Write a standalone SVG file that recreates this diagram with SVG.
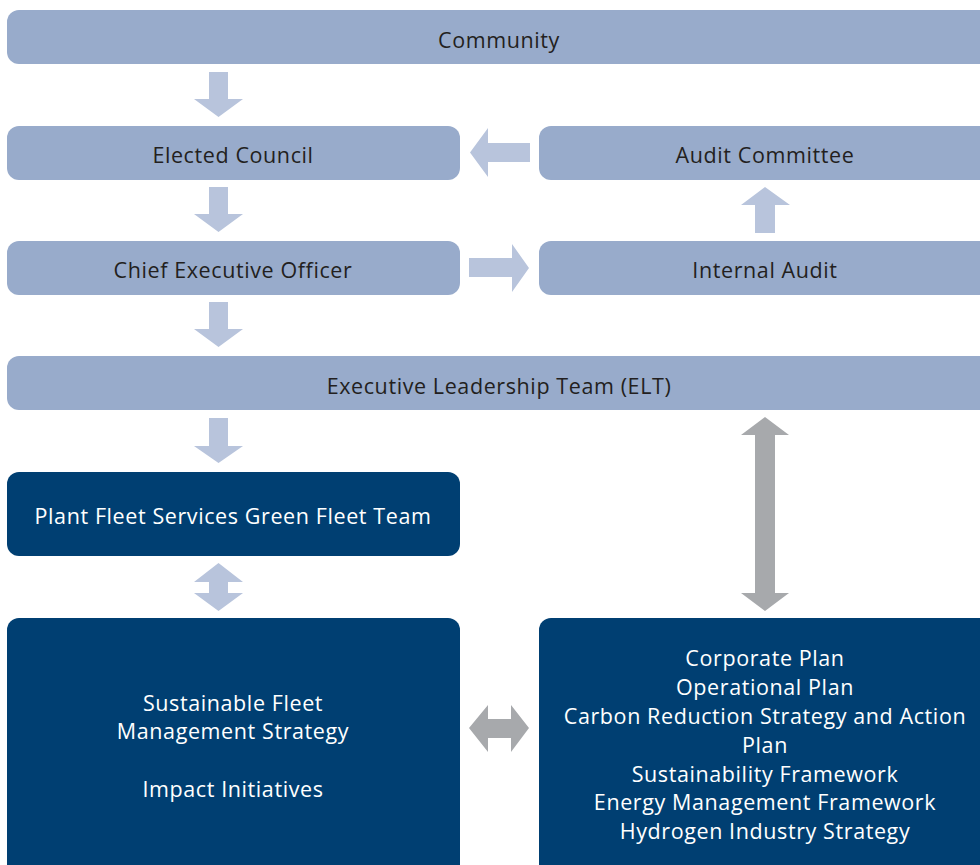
<svg xmlns="http://www.w3.org/2000/svg" width="980" height="865" viewBox="0 0 980 865">
<style>
.lb{fill:#98abcb}
.db{fill:#003f72}
.la{fill:#b8c4dc}
.ga{fill:#a7a9ac}
text{font-family:"Open Sans","Liberation Sans",sans-serif;font-size:21.5px;letter-spacing:0.6px;text-anchor:middle}
.dt{fill:#231f20}
.wt{fill:#ffffff}
</style>
<rect width="980" height="865" fill="#ffffff"/>
<g id="community"><rect class="lb" x="7" y="10" width="985" height="54" rx="12"/><text class="dt" x="499" y="48">Community</text></g>
<g id="elected-council"><rect class="lb" x="7" y="126" width="453" height="54" rx="12"/><text class="dt" x="233" y="163">Elected Council</text></g>
<g id="audit-committee"><rect class="lb" x="539" y="126" width="453" height="54" rx="12"/><text class="dt" x="765" y="163">Audit Committee</text></g>
<g id="ceo"><rect class="lb" x="7" y="241" width="453" height="54" rx="12"/><text class="dt" x="233" y="278">Chief Executive Officer</text></g>
<g id="internal-audit"><rect class="lb" x="539" y="241" width="453" height="54" rx="12"/><text class="dt" x="765" y="278">Internal Audit</text></g>
<g id="elt"><rect class="lb" x="7" y="356" width="985" height="54" rx="12"/><text class="dt" x="499" y="394">Executive Leadership Team (ELT)</text></g>
<g id="green-fleet-team"><rect class="db" x="7" y="472" width="453" height="84" rx="12"/><text class="wt" x="233" y="524">Plant Fleet Services Green Fleet Team</text></g>
<g id="sustainable-fleet"><rect class="db" x="7" y="618" width="453" height="262" rx="12"/>
<text class="wt" x="233" y="711">Sustainable Fleet</text>
<text class="wt" x="233" y="739">Management Strategy</text>
<text class="wt" x="233" y="797">Impact Initiatives</text></g>
<g id="corporate-plans"><rect class="db" x="539" y="618" width="453" height="262" rx="12"/>
<text class="wt" x="765" y="666">Corporate Plan</text>
<text class="wt" x="765" y="695">Operational Plan</text>
<text class="wt" x="765" y="724">Carbon Reduction Strategy and Action</text>
<text class="wt" x="765" y="753">Plan</text>
<text class="wt" x="765" y="782">Sustainability Framework</text>
<text class="wt" x="765" y="810">Energy Management Framework</text>
<text class="wt" x="765" y="839">Hydrogen Industry Strategy</text></g>
<g id="connectors">
<polygon class="la" points="209,72 228,72 228,99 243,99 218.5,117 194,99 209,99"/>
<polygon class="la" points="209,187 228,187 228,214 243,214 218.5,232 194,214 209,214"/>
<polygon class="la" points="209,302 228,302 228,329 243,329 218.5,347 194,329 209,329"/>
<polygon class="la" points="209,418 228,418 228,446 243,446 218.5,463 194,446 209,446"/>
<polygon class="la" points="218.5,563 243,582 228,582 228,593 243,593 218.5,611 194,593 209,593 209,582 194,582"/>
<polygon class="la" points="530,143 530,162 488,162 488,177 470,152.5 488,128 488,143"/>
<polygon class="la" points="469,258 512,258 512,244 529,268 512,292 512,277 469,277"/>
<polygon class="la" points="755,233 775,233 775,205 790,205 765,187 741,205 755,205"/>
<polygon class="ga" points="765,417 789,435 775,435 775,593 789,593 765,611 741,593 755,593 755,435 741,435"/>
<polygon class="ga" points="469,728 488,705 488,719 511,719 511,705 529,728 511,752 511,738 488,738 488,752"/>
</g>
</svg>
